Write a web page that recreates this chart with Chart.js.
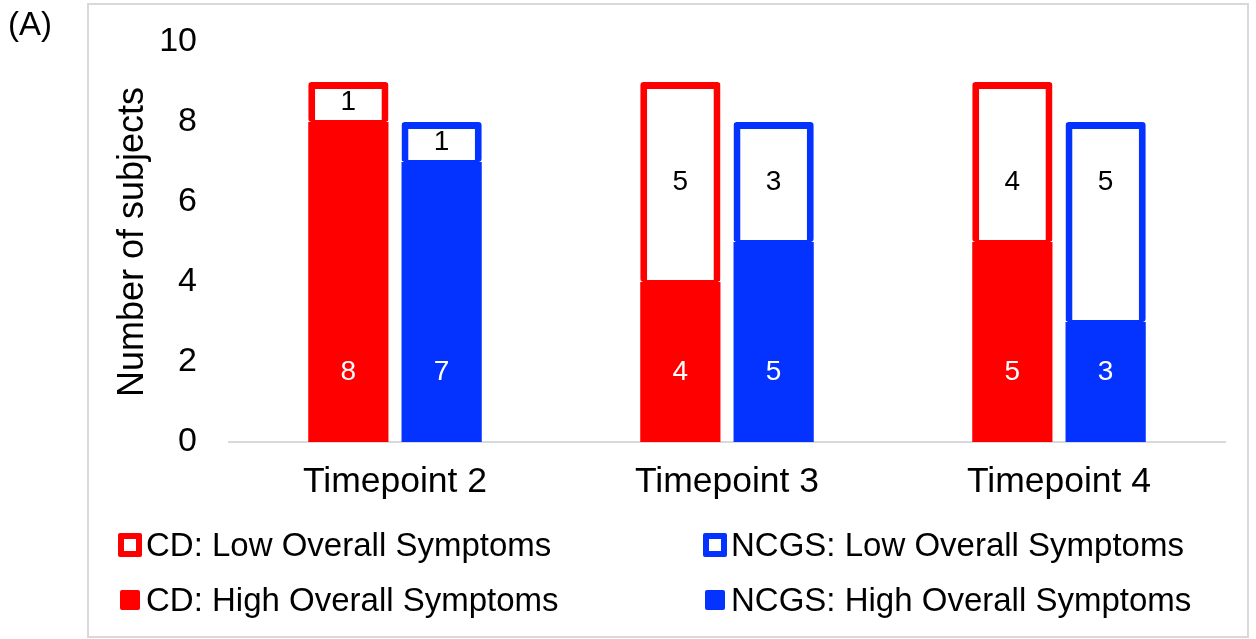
<!DOCTYPE html>
<html>
<head>
<meta charset="utf-8">
<script src="https://cdn.jsdelivr.net/npm/chart.js@4/dist/chart.umd.min.js"></script>
<style>
  html, body { margin: 0; padding: 0; background: #fff; }
  body { width: 1256px; height: 639px; position: relative; overflow: hidden;
         font-family: "Liberation Sans", Arial, sans-serif; color: #000; }
  #frame { position: absolute; left: 87px; top: 3px; width: 1158px; height: 631px;
           border: 2px solid #d9d9d9; }
  #wrap { position: absolute; left: 0; top: 0; width: 1256px; height: 639px; }
  #panel { position: absolute; left: 8px; top: 4px; font-size: 33px; line-height: 40px; }
  .leg { position: absolute; height: 40px; display: flex; align-items: center;
         font-size: 33px; line-height: 40px; white-space: nowrap; }
  .sw { box-sizing: border-box; border-radius: 2px; flex: none; }
</style>
</head>
<body>
<div id="frame"></div>
<div id="wrap"><canvas id="c"></canvas></div>
<div id="panel">(A)</div>
<div id="legend"></div>
<script>
// ---- data ----
const categories = ['Timepoint 2', 'Timepoint 3', 'Timepoint 4'];
const cdHigh   = [8, 4, 5];
const cdLow    = [1, 5, 4];
const ncgsHigh = [7, 5, 3];
const ncgsLow  = [1, 3, 5];
const yTicks   = [0, 2, 4, 6, 8, 10];

const RED = '#FF0000';
const BLUE = '#0433FF';

const lowBorder = { top: 7, left: 7, right: 7, bottom: 2 };

const datasets = [
  { label: 'CD: High Overall Symptoms', data: cdHigh, stack: 'CD', kind: 'high',
    backgroundColor: RED, borderColor: RED, borderWidth: 0, borderSkipped: false, borderRadius: 2 },
  { label: 'CD: Low Overall Symptoms', data: cdLow, stack: 'CD', kind: 'low',
    backgroundColor: '#FFFFFF', borderColor: RED, borderWidth: lowBorder, borderSkipped: false, borderRadius: 3 },
  { label: 'NCGS: High Overall Symptoms', data: ncgsHigh, stack: 'NCGS', kind: 'high',
    backgroundColor: BLUE, borderColor: BLUE, borderWidth: 0, borderSkipped: false, borderRadius: 2 },
  { label: 'NCGS: Low Overall Symptoms', data: ncgsLow, stack: 'NCGS', kind: 'low',
    backgroundColor: '#FFFFFF', borderColor: BLUE, borderWidth: lowBorder, borderSkipped: false, borderRadius: 3 }
];

// segment value labels
const valueLabels = {
  id: 'valueLabels',
  afterDatasetsDraw(chart, args, opts) {
    const ctx = chart.ctx;
    const y = chart.scales.y;
    ctx.save();
    ctx.font = opts.font;
    ctx.textAlign = 'center';
    ctx.textBaseline = 'middle';
    chart.data.datasets.forEach((ds, di) => {
      const meta = chart.getDatasetMeta(di);
      meta.data.forEach((el, i) => {
        const v = ds.data[i];
        const top = el.y, base = el.base;
        const vTop = y.getValueForPixel(top), vBase = y.getValueForPixel(base);
        const anchor = ds.kind === 'low' ? opts.lowAnchor : opts.highAnchor;
        let py;
        if (anchor >= Math.min(vTop, vBase) + 0.6 && anchor <= Math.max(vTop, vBase) - 0.6) {
          py = y.getPixelForValue(anchor);
        } else {
          py = (top + base) / 2;
        }
        ctx.fillStyle = ds.kind === 'low' ? '#000' : '#fff';
        ctx.fillText(String(v), el.x, py);
      });
    });
    ctx.restore();
  }
};

new Chart(document.getElementById('c'), {
  type: 'bar',
  data: { labels: categories, datasets },
  plugins: [valueLabels],
  options: {
    responsive: true,
    maintainAspectRatio: false,
    animation: false,
    devicePixelRatio: 1,
    categoryPercentage: 0.562,
    barPercentage: 0.86,
    layout: { padding: { left: 111, right: 31, top: 42, bottom: 117 } },
    plugins: {
      legend: { display: false },
      tooltip: { enabled: false },
      valueLabels: { font: '28px "Liberation Sans", Arial, sans-serif', lowAnchor: 6.5, highAnchor: 1.75 }
    },
    scales: {
      x: {
        stacked: true,
        grid: { display: false, drawTicks: false },
        border: { display: true, color: '#d9d9d9', width: 2 },
        ticks: { color: '#000', padding: 19,
                 font: { family: '"Liberation Sans", Arial, sans-serif', size: 35.5 } },
        afterFit(s) { s.height = 80; s.paddingLeft = 0; s.paddingRight = 0; }
      },
      y: {
        stacked: true,
        min: 0, max: 10,
        afterBuildTicks(s) { s.ticks = yTicks.map(v => ({ value: v })); },
        grid: { display: false, drawTicks: false },
        border: { display: false },
        ticks: { color: '#000', padding: 32,
                 font: { family: '"Liberation Sans", Arial, sans-serif', size: 34 } },
        title: { display: true, text: 'Number of subjects', color: '#000', padding: 0,
                 font: { family: '"Liberation Sans", Arial, sans-serif', size: 36 } },
        afterFit(s) { s.width = 118; s.paddingTop = 0; s.paddingBottom = 0; }
      }
    }
  }
});

// HTML legend (2 x 2 grid)
const legendItems = [
  { text: datasets[1].label, color: RED, kind: 'low', left: 118, top: 525 },
  { text: datasets[3].label, color: BLUE, kind: 'low', left: 703, top: 525 },
  { text: datasets[0].label, color: RED, kind: 'high', left: 118, top: 580 },
  { text: datasets[2].label, color: BLUE, kind: 'high', left: 703, top: 580 }
];
const legendEl = document.getElementById('legend');
legendItems.forEach(it => {
  const d = document.createElement('div');
  d.className = 'leg';
  d.style.left = it.left + 'px';
  d.style.top = it.top + 'px';
  const sw = document.createElement('span');
  sw.className = 'sw';
  if (it.kind === 'low') {
    sw.style.width = '24px'; sw.style.height = '24px';
    sw.style.border = '6px solid ' + it.color; sw.style.background = '#fff';
    sw.style.marginRight = '4px';
  } else {
    sw.style.width = '20px'; sw.style.height = '20px';
    sw.style.background = it.color;
    sw.style.marginLeft = '2px'; sw.style.marginRight = '6px';
  }
  const t = document.createElement('span');
  t.textContent = it.text;
  d.appendChild(sw); d.appendChild(t);
  legendEl.appendChild(d);
});
</script>
</body>
</html>
